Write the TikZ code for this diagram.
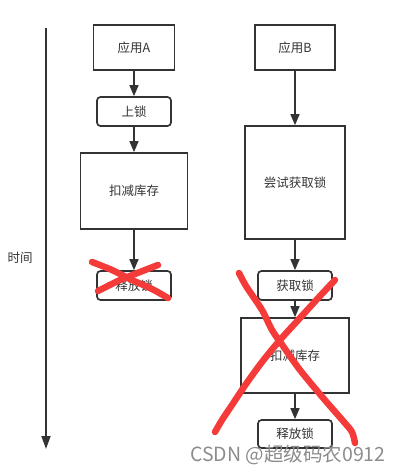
\documentclass[tikz,border=0pt]{standalone}
\usepackage{fontspec}
\newfontfamily\cjk{Noto Sans CJK SC}
\usetikzlibrary{arrows.meta}
\definecolor{linegray}{HTML}{333333}
\definecolor{crossred}{HTML}{F53A3A}
\tikzset{
    plain box/.style={draw=linegray, line width=1.7, text=linegray,
        font=\cjk\fontsize{12.5}{14}\selectfont, inner sep=0pt},
    step box/.style={plain box, rounded corners=3.5},
    flow line/.style={draw=linegray, line width=1.6,
        -{Triangle[length=11,width=9]}},
    time line/.style={draw=linegray, line width=1.8,
        -{Triangle[length=13,width=9]}},
    cross stroke/.style={crossred, line width=6.5, line cap=round,
        line join=round}
}

\begin{document}
\begin{tikzpicture}[x=1pt,y=-1pt]
    \useasboundingbox (0,0) rectangle (402,473);

    % time axis
    \coordinate (t0) at (46,28);
    \coordinate (t1) at (46,449);
    \draw[time line] (t0) -- (t1);
    \node[font=\cjk\fontsize{12.5}{14}\selectfont, text=linegray] (tlabel)
        at (20,258) {时间};

    % application A
    \node[plain box, minimum width=81, minimum height=45] (appA) at (134,47.5) {应用A};
    \node[step box, minimum width=74, minimum height=29] (lockA) at (134,111.5) {上锁};
    \node[plain box, minimum width=107, minimum height=76] (deductA) at (134,191) {扣减库存};
    \node[step box, minimum width=74, minimum height=29] (releaseA) at (134,285.5) {释放锁};

    \draw[flow line] (appA) -- (lockA);
    \draw[flow line] (lockA) -- (deductA);
    \draw[flow line] (deductA) -- (releaseA);

    % application B
    \node[plain box, minimum width=80, minimum height=45] (appB) at (295,47.5) {应用B};
    \node[plain box, minimum width=100, minimum height=113] (tryB) at (295,182.5) {尝试获取锁};
    \node[step box, minimum width=74, minimum height=29] (getB) at (295,285.5) {获取锁};
    \node[plain box, minimum width=108, minimum height=75] (deductB) at (295,355.5) {扣减库存};
    \node[step box, minimum width=74, minimum height=28] (releaseB) at (295,434) {释放锁};

    \draw[flow line] (appB) -- (tryB);
    \draw[flow line] (tryB) -- (getB);
    \draw[flow line] (getB) -- (deductB);
    \draw[flow line] (deductB) -- (releaseB);

    % red crosses
    \draw[cross stroke] plot[smooth] coordinates
        {(92,262) (112,270) (132,280) (152,289) (168,298)};
    \draw[cross stroke] plot[smooth] coordinates
        {(158,265) (140,272) (118,281) (98,291)};
    \draw[cross stroke] plot[smooth] coordinates
        {(239,273) (246,286) (262,310) (272,330) (283,346) (300,370)
         (324,399) (344,422) (352,432) (355,443)};
    \draw[cross stroke] plot[smooth] coordinates
        {(335,280) (320,296) (300,318) (280,340) (262,362) (246,384)
         (232,405) (222,420) (215,432)};

    % watermark
    \node[font=\cjk\fontsize{19.5}{21}\selectfont, text=black!45, anchor=east]
        (mark) at (389,455) {CSDN @超级码农0912};
\end{tikzpicture}
\end{document}
